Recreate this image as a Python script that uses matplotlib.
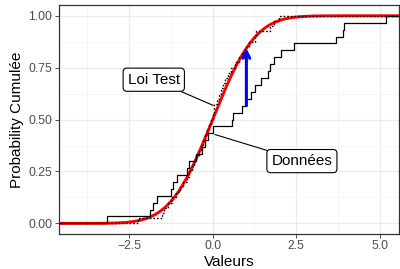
import math
import numpy as np
import matplotlib
matplotlib.use("Agg")
import matplotlib.pyplot as plt
from matplotlib.ticker import MultipleLocator

# ---- data ----
donnees = [-3.16, -1.87, -1.77, -1.67, -1.25, -1.19, -1.06, -0.76, -0.70, -0.50,
           -0.33, -0.23, -0.13, 0.02, 0.57, 0.62, 0.87, 1.01, 1.16, 1.26,
           1.46, 1.66, 1.73, 1.83, 2.06, 2.43, 3.70, 3.90, 3.92, 5.19]
echantillon_loi = [-2.22, -1.52, -1.45, -1.33, -1.22, -1.10, -0.98, -0.90, -0.78, -0.70,
                   -0.62, -0.55, -0.50, -0.42, -0.36, -0.30, -0.24, -0.18, -0.12, -0.05,
                   0.01, 0.03, 0.05, 0.12, 0.18, 0.24, 0.30, 0.38, 0.45, 0.55,
                   0.66, 0.78, 0.88, 0.98, 1.10, 1.26, 1.30, 1.72, 1.85, 2.00]
x_ticks = [-2.5, 0.0, 2.5, 5.0]
y_ticks = [0.00, 0.25, 0.50, 0.75, 1.00]
label_loi = "Loi Test"
label_donnees = "Données"
loi_label_pos = (-1.76, 0.692)
loi_label_target = (0.02, 0.568)
donnees_label_pos = (2.67, 0.30)
donnees_label_target = (0.07, 0.428)

XLIM = (-4.6, 5.58)
YLIM = (-0.05, 1.05)

def norm_cdf(x):
    return np.array([0.5 * (1 + math.erf(v / math.sqrt(2))) for v in np.atleast_1d(x)])

def ecdf_xy(vals):
    v = np.sort(np.asarray(vals, dtype=float))
    n = len(v)
    xs = np.concatenate([[-20.0], v, [20.0]])
    ys = np.concatenate([[0.0], np.arange(1, n + 1) / n, [1.0]])
    return xs, ys

plt.rcParams['font.family'] = ['Liberation Sans', 'DejaVu Sans']

fig = plt.figure(figsize=(4.0, 2.69), dpi=100)
ax = fig.add_axes([0.147, 0.131, 0.851, 0.849])

# grid
ax.set_xlim(*XLIM)
ax.set_ylim(*YLIM)
ax.xaxis.set_major_locator(MultipleLocator(2.5))
ax.xaxis.set_minor_locator(MultipleLocator(1.25))
ax.yaxis.set_major_locator(MultipleLocator(0.25))
ax.yaxis.set_minor_locator(MultipleLocator(0.125))
ax.grid(which='major', color='#EBEBEB', linewidth=1.0, zorder=0)
ax.grid(which='minor', color='#F4F4F4', linewidth=0.6, zorder=0)
ax.set_axisbelow(True)
ax.set_xticks(x_ticks)
ax.set_xticklabels(["\u22122.5", "0.0", "2.5", "5.0"])
ax.set_yticks(y_ticks)
ax.set_yticklabels([f"{v:.2f}" for v in y_ticks])
ax.tick_params(which='major', length=2.75, width=0.6, color='#333333',
               labelsize=8.8, labelcolor='#4D4D4D', pad=2)
ax.tick_params(which='minor', length=0)
for s in ax.spines.values():
    s.set_color('#333333')
    s.set_linewidth(0.9)

# theoretical CDF
xx = np.linspace(-20, 20, 2000)
ax.plot(xx, norm_cdf(xx), color='red', linewidth=2.1, zorder=3)

# sample from test law (dotted)
xs, ys = ecdf_xy(echantillon_loi)
ax.step(xs, ys, where='post', color='black', linewidth=1.0, linestyle=(0, (1.2, 1.4)), zorder=4)

# data ECDF
xs, ys = ecdf_xy(donnees)
ax.step(xs, ys, where='post', color='black', linewidth=0.9, zorder=5)

# KS statistic arrow
d = np.sort(np.asarray(donnees))
n = len(d)
F = norm_cdf(d)
gap = F - np.arange(0, n) / n
k = int(np.argmax(gap))
ax.annotate("", xy=(d[k], F[k]), xytext=(d[k], k / n),
            arrowprops=dict(arrowstyle='->', color='blue', lw=2.2,
                            mutation_scale=12, shrinkA=0, shrinkB=0),
            zorder=6)

# labels
bbox = dict(boxstyle='round,pad=0.3,rounding_size=0.25', fc='white', ec='black', lw=0.8)
ax.annotate(label_loi, xy=loi_label_target, xytext=loi_label_pos,
            ha='center', va='center', fontsize=11, bbox=bbox,
            arrowprops=dict(arrowstyle='-', color='black', lw=0.8, shrinkA=0, shrinkB=0),
            zorder=7)
ax.annotate(label_donnees, xy=donnees_label_target, xytext=donnees_label_pos,
            ha='center', va='center', fontsize=11, bbox=bbox,
            arrowprops=dict(arrowstyle='-', color='black', lw=0.8, shrinkA=0, shrinkB=0),
            zorder=7)

ax.set_xlabel("Valeurs", fontsize=11, labelpad=2)
ax.set_ylabel("Probability Cumulée", fontsize=11, labelpad=3)

fig.savefig("out.png", dpi=100)
